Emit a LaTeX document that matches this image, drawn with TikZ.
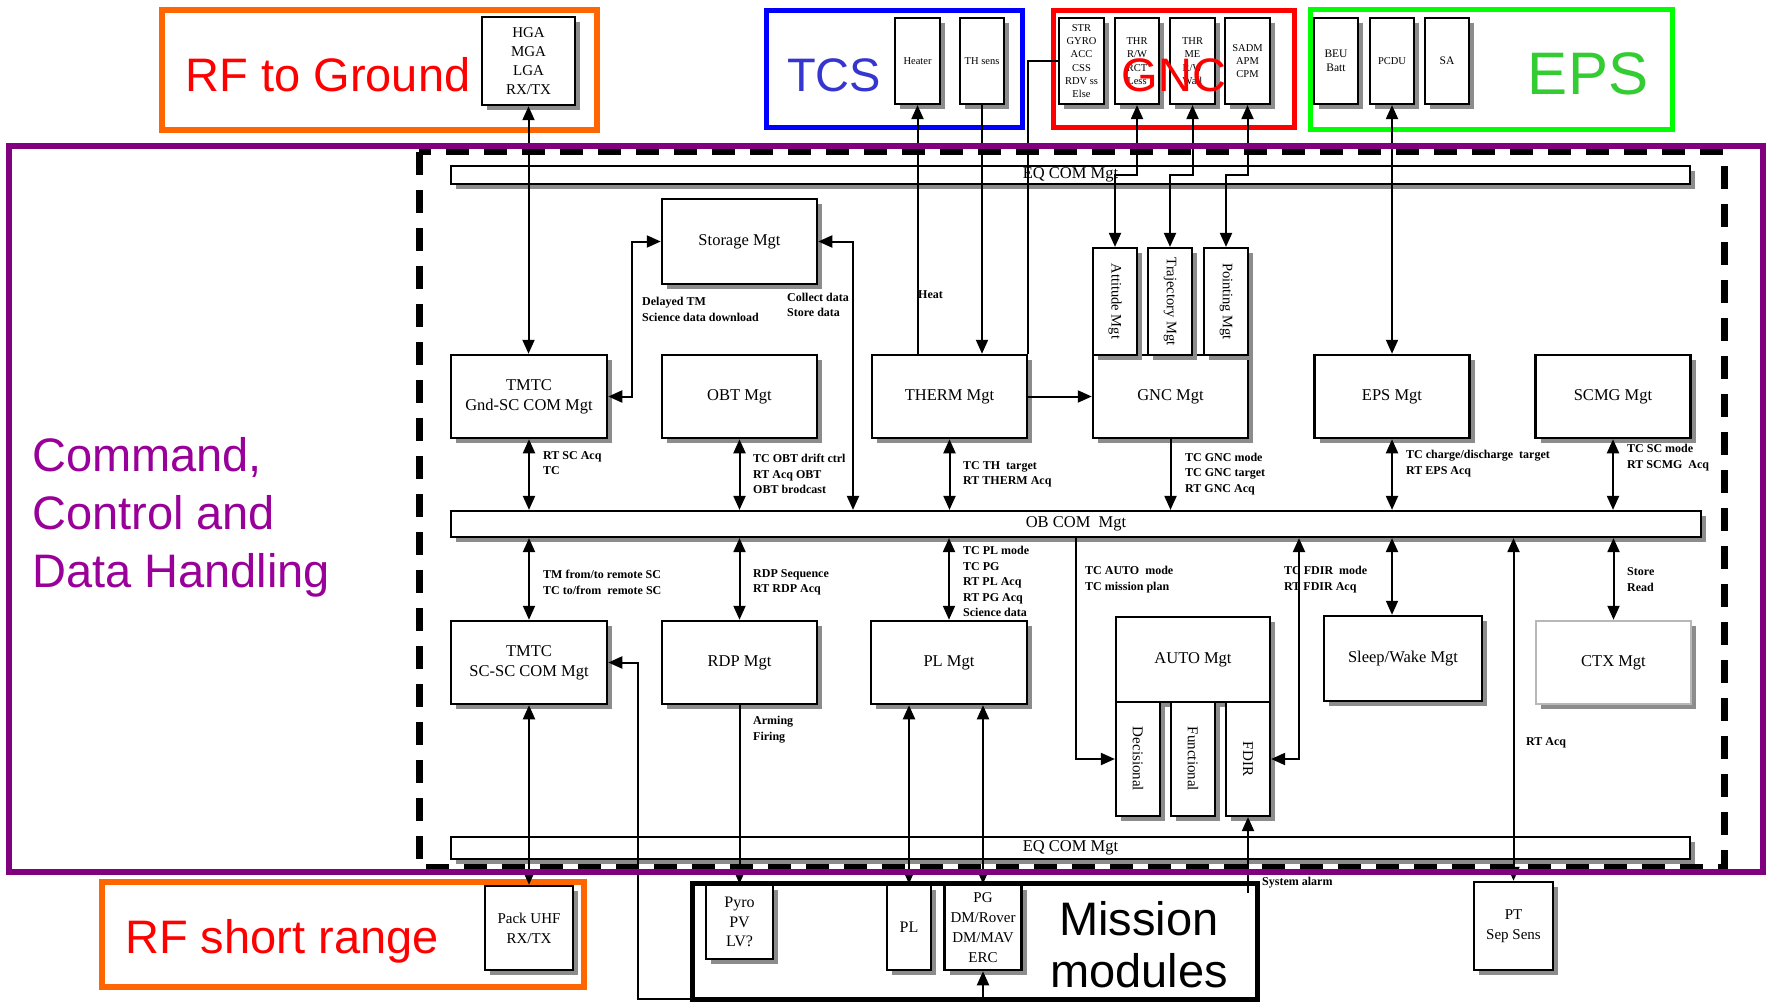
\documentclass[tikz,border=0pt]{standalone}
\usepackage{fontspec}
\setmainfont{Liberation Serif}
\newfontfamily\sansf{Liberation Sans}
\usepackage{graphicx}
\usetikzlibrary{arrows.meta,shadows}

\definecolor{rforange}{HTML}{FF6600}
\definecolor{tcsblue}{HTML}{0000FF}
\definecolor{tcstext}{HTML}{3535D0}
\definecolor{gncred}{HTML}{FF0000}
\definecolor{epsgreen}{HTML}{00FF00}
\definecolor{epstext}{HTML}{33CC33}
\definecolor{cdhpurple}{HTML}{800080}
\definecolor{cdhtext}{HTML}{990099}

\begin{document}
\begin{tikzpicture}[x=1pt, y=-1pt,
  >={Triangle[length=14pt,width=12pt]},
  box/.style={draw, line width=2.5pt, fill=white, inner sep=0pt, align=center,
    drop shadow={shadow xshift=5pt, shadow yshift=-5pt, fill=black!45, opacity=1},
    font=\fontsize{16.5}{20}\selectfont},
  unit/.style={box, minimum width=155pt, minimum height=83pt},
  slim/.style={box, line width=2.2pt, minimum width=44pt, minimum height=86pt,
    font=\fontsize{10.5}{13.3}\selectfont},
  sub/.style={box, line width=2.2pt, minimum width=44pt, font=\fontsize{14.5}{18}\selectfont},
  bar/.style={box, line width=2.2pt},
  hw/.style={box, line width=2.5pt, font=\fontsize{15}{20}\selectfont},
  lab/.style={anchor=west, inner sep=0pt, align=left, font=\bfseries\fontsize{12}{15.5}\selectfont},
  big/.style={inner sep=0pt, anchor=base, font=\sansf\fontsize{47}{56}\selectfont},
  wire/.style={line width=2pt},
  frame/.style={line width=5pt}
]
% page
\fill[white] (0,0) rectangle (1769,1003);
\useasboundingbox (0,0) rectangle (1769,1003);

% subsystem frames
\draw[frame, rforange, line width=5.5pt] (162,10) rectangle (597,130);
\draw[frame, tcsblue] (766,11) rectangle (1022,128);
\draw[frame, gncred] (1053,11) rectangle (1294,128);
\draw[frame, epsgreen] (1310,10) rectangle (1672,130);
\draw[frame, rforange, line width=5.5pt] (102,882) rectangle (584,987);
\draw[frame] (692,883) rectangle (1257,999);
\draw[line width=7pt, dash pattern=on 23pt off 15pt] (419,152) rectangle (1724,867);

% equipment boxes, top row
\node[box, minimum width=93pt, minimum height=88pt, font=\fontsize{15}{19}\selectfont] (hga) at (528.5,61) {HGA\\MGA\\LGA\\RX/TX};
\node[slim, minimum width=45pt] (heater) at (917.5,61) {Heater};
\node[slim] (thsens) at (982,61) {TH sens};
\node[slim, minimum width=45pt] (str) at (1081.5,61) {STR\\GYRO\\ACC\\CSS\\RDV ss\\Else};
\node[slim] (thr1) at (1137,61) {THR\\R/W\\RCT\\Less};
\node[slim, minimum width=45pt] (thr2) at (1192.5,61) {THR\\ME\\R/W\\Wall};
\node[slim, minimum width=45pt] (sadm) at (1247.5,61) {SADM\\APM\\CPM};
\node[slim, font=\fontsize{11.5}{14}\selectfont] (beu) at (1336,61) {BEU\\Batt};
\node[slim] (pcdu) at (1392,61) {PCDU};
\node[slim, font=\fontsize{11.5}{14}\selectfont] (sa) at (1447,61) {SA};

% buses
\node[bar, minimum width=1239pt, minimum height=18pt] (eqtop) at (1070.5,175) {EQ COM Mgt};
\node[bar, minimum width=1250pt, minimum height=26pt] (obcom) at (1076,524) {OB COM\ \ Mgt};
\node[bar, minimum width=1239pt, minimum height=22pt] (eqbot) at (1070.5,848) {EQ COM Mgt};

% management functions, upper row
\node[unit, minimum height=85pt] (storage) at (739.5,241.5) {Storage Mgt};
\node[unit, minimum width=156pt] (tmtcg) at (529,396.5) {TMTC\\Gnd-SC COM Mgt};
\node[unit] (obt) at (739.5,396.5) {OBT Mgt};
\node[unit] (therm) at (949.5,396.5) {THERM Mgt};
\node[unit] (gnc) at (1170.5,396.5) {GNC Mgt};
\node[unit] (eps) at (1392,396.5) {EPS Mgt};
\node[unit] (scmg) at (1613,396.5) {SCMG Mgt};
\node[sub, minimum height=107pt] (att) at (1115,301.5) {\rotatebox{-90}{Attitude Mgt}};
\node[sub, minimum height=107pt] (traj) at (1170,301.5) {\rotatebox{-90}{Trajectory Mgt}};
\node[sub, minimum height=107pt] (point) at (1226,301.5) {\rotatebox{-90}{Pointing Mgt}};

% management functions, lower row
\node[unit, minimum width=156pt] (tmtcs) at (529,662.5) {TMTC\\SC-SC COM Mgt};
\node[unit] (rdp) at (739.5,662.5) {RDP Mgt};
\node[unit, minimum width=156pt] (pl) at (949,662.5) {PL Mgt};
\node[unit, minimum width=154pt, minimum height=85pt] (auto) at (1193,659.5) {AUTO Mgt};
\node[sub, minimum height=114pt, font=\fontsize{15}{18}\selectfont] (dec) at (1138,759) {\rotatebox{-90}{Decisional}};
\node[sub, minimum height=114pt, font=\fontsize{15}{18}\selectfont] (func) at (1193,759) {\rotatebox{-90}{Functional}};
\node[sub, minimum height=114pt, font=\fontsize{15}{18}\selectfont] (fdir) at (1248,759) {\rotatebox{-90}{FDIR}};
\node[unit, minimum width=158pt, minimum height=85pt] (sleep) at (1403,658.5) {Sleep/Wake Mgt};
\node[unit, draw=black!28] (ctx) at (1613.5,662.5) {CTX Mgt};

% equipment boxes, bottom row
\node[hw, minimum width=88pt, minimum height=84pt] (packuhf) at (529,928) {Pack UHF\\RX/TX};
\node[hw, minimum width=67pt, minimum height=74pt, font=\fontsize{16}{19.5}\selectfont] (pyro) at (739.5,922) {Pyro\\PV\\LV?};
\node[hw, minimum width=44pt, minimum height=85pt, font=\fontsize{16}{19.5}\selectfont] (plb) at (909,927.5) {PL};
\node[hw, minimum width=77pt, minimum height=85pt] (pg) at (983,927.5) {PG\\DM/Rover\\DM/MAV\\ERC};
\node[hw, minimum width=79pt, minimum height=88pt] (pt) at (1513.5,926) {PT\\Sep Sens};

% links: top equipment
\draw[wire,<->] (hga.south) -- (hga.south |- tmtcg.north);
\draw[wire,->] (heater.south |- therm.north) -- (heater.south);
\draw[wire,->] (thsens.south) -- (thsens.south |- therm.north);
\draw[wire] (str.west) -| (therm.north east);
\draw[wire,<->] (thr1.south) -- (thr1.south |- eqtop.center) -| (att.north);
\draw[wire,<->] (thr2.south) -- (thr2.south |- eqtop.center) -| (traj.north);
\draw[wire,<->] (sadm.south) -- (sadm.south |- eqtop.center) -| (point.north);
\draw[wire,<->] (pcdu.south) -- (pcdu.south |- eps.north);

% links: storage
\draw[wire,<->] (storage.west) -- ++(-29,0) |- (tmtcg.east);
\coordinate (stj) at (853,241.5);
\draw[wire,<->] (storage.east) -- (stj) -- (stj |- obcom.north);

% links: upper row to OB COM
\draw[wire,<->] (tmtcg.south) -- (tmtcg.south |- obcom.north);
\draw[wire,<->] (obt.south) -- (obt.south |- obcom.north);
\draw[wire,<->] (therm.south) -- (therm.south |- obcom.north);
\draw[wire,->] (therm.east) -- (gnc.west);
\draw[wire,->] (gnc.south) -- (gnc.south |- obcom.north);
\draw[wire,<->] (eps.south) -- (eps.south |- obcom.north);
\draw[wire,<->] (scmg.south) -- (scmg.south |- obcom.north);

% links: OB COM to lower row
\draw[wire,<->] (tmtcs.north |- obcom.south) -- (tmtcs.north);
\draw[wire,<->] (rdp.north |- obcom.south) -- (rdp.north);
\draw[wire,<->] (pl.north |- obcom.south) -- (pl.north);
\draw[wire,->] (obcom.south) |- (dec.west);
\coordinate (fdj) at (1299,759);
\draw[wire,<->] (fdir.east) -- (fdj) -- (fdj |- obcom.south);
\draw[wire,<->] (eps.south |- obcom.south) -- (eps.south |- sleep.north);
\draw[wire,<->] (ctx.north |- obcom.south) -- (ctx.north);
\draw[wire,<->] (pt.north |- obcom.south) -- (pt.north);

% links: lower row to equipment
\draw[wire,<->] (plb.north |- pl.south) -- (plb.north);
\draw[wire,<->] (pg.north |- pl.south) -- (pg.north);
\draw[wire,->] (rdp.south) -- (pyro.north);
\draw[wire,<->] (tmtcs.south) -- (packuhf.north);
\coordinate (loopx) at (638,999);
\draw[wire,<->] (pg.south) |- (loopx) |- (tmtcs.east);
\coordinate (alarmend) at (1248,893);
\draw[wire,->] (alarmend) -- (fdir.south);

% flow labels
\node[lab] (l-delay) at (642,309.5) {Delayed TM\\Science data download};
\node[lab] (l-collect) at (787,305) {Collect data\\Store data};
\node[lab] (l-heat) at (918,295) {Heat};
\node[lab] (l-rtsc) at (543,463) {RT SC Acq\\TC};
\node[lab] (l-obt) at (753,474) {TC OBT drift ctrl\\RT Acq OBT\\OBT brodcast};
\node[lab] (l-th) at (963,474.5) {TC TH\ \ target\\RT THERM Acq};
\node[lab] (l-gnc) at (1185,474) {TC GNC mode\\TC GNC target\\RT GNC Acq};
\node[lab] (l-eps) at (1406,463.5) {TC charge/discharge\ \ target\\RT EPS Acq};
\node[lab] (l-scmg) at (1627,457.5) {TC SC mode\\RT SCMG\ \ Acq};
\node[lab] (l-tm) at (543,582.5) {TM from/to remote SC\\TC to/from\ \ remote SC};
\node[lab] (l-rdp) at (753,582.5) {RDP Sequence\\RT RDP Acq};
\node[lab] (l-pl) at (963,581.5) {TC PL mode\\TC PG\\RT PL Acq\\RT PG Acq\\Science data};
\node[lab] (l-auto) at (1085,579.5) {TC AUTO\ \ mode\\TC mission plan};
\node[lab] (l-fdir) at (1284,579.5) {TC FDIR\ \ mode\\RT FDIR Acq};
\node[lab] (l-store) at (1627,579.5) {Store\\Read};
\node[lab] (l-arm) at (753,729.5) {Arming\\Firing};
\node[lab] (l-rtacq) at (1526,743) {RT Acq};
\node[lab] (l-alarm) at (1262,883) {System alarm};

% command and data handling frame
\draw[frame, cdhpurple, line width=5.5pt] (9,146) rectangle (1763,872);

% subsystem titles
\node[big, text=gncred] (t-rfg) at (328,92) {RF to Ground};
\node[big, text=tcstext] (t-tcs) at (834,92) {TCS};
\node[big, text=gncred] (t-gnc) at (1174,92) {GNC};
\node[big, text=epstext, font=\sansf\fontsize{60}{70}\selectfont] (t-eps) at (1588,95) {EPS};
\node[big, text=gncred] (t-rfs) at (282,953) {RF short range};
\node[big, anchor=base west, text=cdhtext] (t-cdh1) at (32,471) {Command,};
\node[big, anchor=base west, text=cdhtext] (t-cdh2) at (32,529) {Control and};
\node[big, anchor=base west, text=cdhtext] (t-cdh3) at (32,587) {Data Handling};
\node[inner sep=0pt, align=center, font=\sansf\fontsize{47}{52}\selectfont] (t-mm) at (1139,945) {Mission\\modules};
\end{tikzpicture}
\end{document}
